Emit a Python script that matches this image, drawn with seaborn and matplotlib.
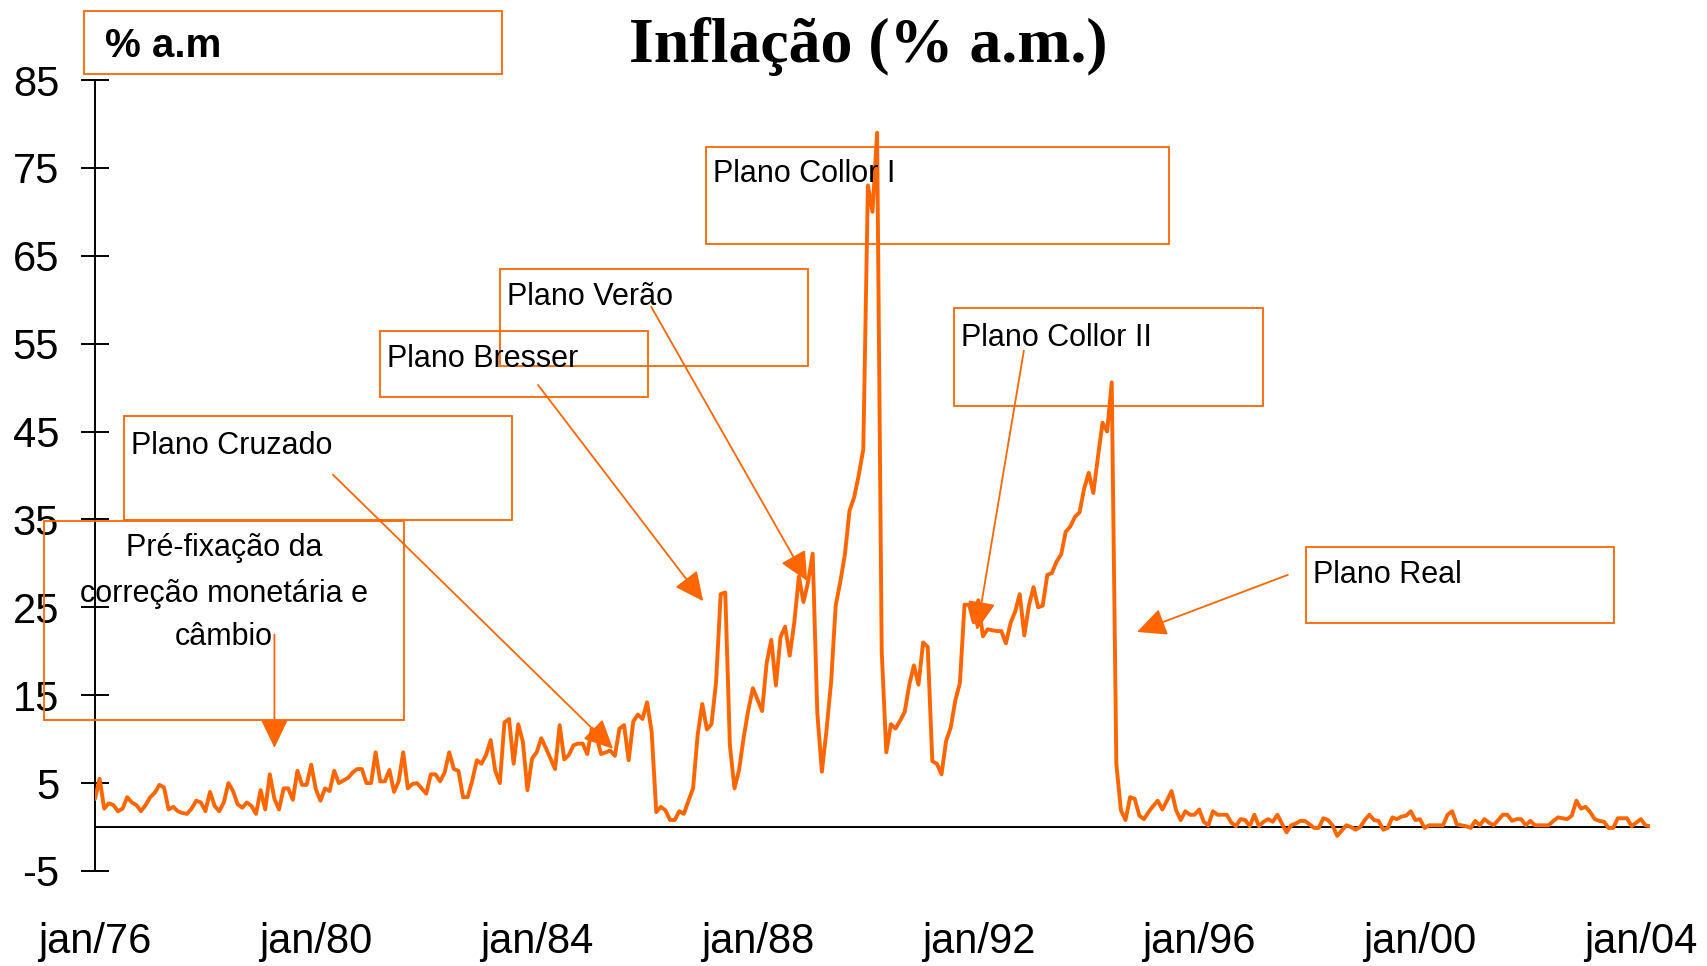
import numpy as np
import pandas as pd
import matplotlib.pyplot as plt
import seaborn as sns
from matplotlib.patches import Rectangle

# Monthly inflation (% a.m.), jan/1976 - mar/2004
infl_1976_1979 = [3.2, 5.5, 2.1, 2.7, 2.5, 1.8, 2.1, 3.4, 2.8, 2.5, 1.8, 2.5,
                  3.4, 3.9, 4.8, 4.5, 2.0, 2.3, 1.8, 1.6, 1.5, 2.1, 3.0, 2.8,
                  1.8, 4.0, 2.4, 1.8, 2.8, 5.0, 4.1, 2.6, 2.2, 2.8, 2.4, 1.5,
                  4.2, 2.0, 6.0, 3.2, 2.0, 4.4, 4.4, 3.1, 6.4, 4.8, 4.8, 7.1]
infl_1980_1983 = [4.3, 3.0, 4.4, 4.1, 6.4, 5.0, 5.3, 5.6, 6.2, 6.6, 6.6, 5.0,
                  5.0, 8.5, 5.2, 5.2, 6.5, 4.0, 5.2, 8.5, 4.4, 4.9, 5.0, 4.4,
                  3.8, 6.0, 6.0, 5.2, 6.2, 8.5, 6.6, 6.4, 3.4, 3.4, 5.3, 7.6,
                  7.2, 8.2, 9.9, 6.4, 5.0, 11.9, 12.3, 7.2, 11.7, 9.7, 4.2, 7.8]
infl_1984_1987 = [8.5, 10.1, 9.0, 7.8, 6.6, 11.6, 7.7, 8.2, 9.3, 9.5, 9.5, 8.3,
                  11.2, 10.3, 8.3, 8.5, 8.7, 8.1, 11.2, 11.6, 7.6, 12.0, 12.8, 12.3,
                  14.2, 10.8, 1.7, 2.3, 1.9, 0.8, 0.8, 1.8, 1.5, 3.0, 4.4, 10.5,
                  14.0, 11.1, 11.7, 16.5, 26.5, 26.7, 9.3, 4.4, 6.5, 10.2, 13.3, 15.8]
infl_1988_1991 = [14.5, 13.2, 18.7, 21.3, 16.1, 21.6, 22.8, 19.5, 23.3, 28.5, 25.6, 27.9,
                  31.1, 13.0, 6.3, 11.0, 16.5, 25.2, 27.9, 31.0, 36.0, 37.5, 40.0, 43.0,
                  73.0, 70.0, 79.0, 20.0, 8.5, 11.7, 11.2, 12.1, 13.1, 16.2, 18.4, 16.2,
                  21.0, 20.5, 7.5, 7.2, 6.0, 9.8, 11.3, 14.4, 16.4, 25.3, 25.3, 23.3]
infl_1992_1995 = [25.8, 21.7, 22.5, 22.4, 22.3, 22.3, 20.9, 23.2, 24.5, 26.5, 21.8, 25.2,
                  27.3, 25.0, 25.2, 28.7, 28.9, 30.2, 31.0, 33.6, 34.2, 35.3, 35.8, 38.5,
                  40.3, 38.0, 42.1, 46.0, 45.0, 50.6, 7.2, 1.9, 0.8, 3.4, 3.2, 1.3,
                  0.9, 1.7, 2.4, 3.0, 2.0, 3.0, 4.1, 1.9, 0.8, 1.8, 1.4, 1.4]
infl_1996_1999 = [2.0, 0.6, 0.2, 1.8, 1.4, 1.4, 1.4, 0.5, 0.1, 0.9, 0.8, 0.1,
                  1.4, 0.1, 0.6, 0.9, 0.6, 1.4, 0.4, -0.6, 0.2, 0.4, 0.7, 0.7,
                  0.3, -0.1, -0.1, 1.0, 0.8, 0.2, -1.0, -0.4, 0.2, 0.0, -0.3, 0.0,
                  0.8, 1.4, 0.8, 0.7, -0.3, -0.1, 1.1, 0.9, 1.2, 1.3, 1.8, 0.8]
infl_2000_2004 = [0.9, -0.1, 0.2, 0.2, 0.2, 0.2, 1.4, 1.8, 0.3, 0.2, 0.1, -0.1,
                  0.7, 0.2, 0.9, 0.5, 0.2, 0.8, 1.4, 1.4, 0.7, 0.9, 0.9, 0.2,
                  0.7, 0.2, 0.2, 0.2, 0.2, 0.7, 1.1, 1.0, 0.9, 1.3, 3.0, 2.1,
                  2.3, 1.7, 0.9, 0.7, 0.6, -0.1, -0.1, 1.0, 1.0, 1.0, 0.1, 0.5,
                  0.9, 0.2, 0.1]

tick_labels = ["jan/76", "jan/80", "jan/84", "jan/88", "jan/92", "jan/96", "jan/00", "jan/04"]
y_ticks = [-5, 5, 15, 25, 35, 45, 55, 65, 75, 85]

values = (infl_1976_1979 + infl_1980_1983 + infl_1984_1987 + infl_1988_1991
          + infl_1992_1995 + infl_1996_1999 + infl_2000_2004)
df = pd.DataFrame({"mes": np.arange(len(values)), "inflacao": values})

sns.set_style("white")
plt.rcParams["font.family"] = ["Liberation Sans", "DejaVu Sans"]
plt.rcParams["axes.unicode_minus"] = False
plt.rcParams["text.color"] = "black"

W, H = 1708, 966
orange = "#FF6600"

fig = plt.figure(figsize=(W / 100, H / 100), dpi=100)
ax = fig.add_axes([95 / W, 1 - 871 / H, (1650 - 95) / W, (871 - 80) / H])
ax.patch.set_alpha(0)

sns.lineplot(data=df, x="mes", y="inflacao", color=orange, lw=2.8, ax=ax, zorder=3)
ax.axhline(0, color="black", lw=1.4, zorder=2)

ax.set_xlim(0, len(values) - 1)
ax.set_ylim(-5, 85)
ax.set_yticks(y_ticks)
ax.set_xticks(np.arange(0, len(values), 48))
ax.set_xticklabels(tick_labels)
ax.set_xlabel("")
ax.set_ylabel("")
for s in ["top", "right", "bottom"]:
    ax.spines[s].set_visible(False)
ax.spines["left"].set_color("black")
ax.spines["left"].set_linewidth(1.4)
ax.tick_params(axis="y", direction="inout", length=19.5, width=1.4, labelsize=30,
               pad=16, colors="black", left=True)
ax.tick_params(axis="x", length=0, labelsize=30, pad=37, colors="black")


def box(x0, y0, x1, y1):
    fig.add_artist(Rectangle((x0 / W, 1 - y1 / H), (x1 - x0) / W, (y1 - y0) / H,
                             transform=fig.transFigure, fill=False, ec=orange, lw=1.3))


def label(x, y, s, size=22, **kw):
    fig.text(x / W, 1 - y / H, s, va="center", fontsize=size, color="black", **kw)


# title and unit box
fig.text(868 / W, 1 - 46 / H, "Inflação (% a.m.)", ha="center", va="center",
         fontsize=46, fontweight="bold", family="Liberation Serif", color="black")
box(84, 11, 502, 74)
label(105, 46, "% a.m", size=29, fontweight="bold")

# annotation boxes
box(706, 147, 1169, 244)
label(713, 174, "Plano Collor I")
box(500, 269, 808, 366)
label(507, 297, "Plano Verão")
box(380, 331, 648, 397)
label(387, 359, "Plano Bresser")
box(954, 308, 1263, 406)
label(961, 338, "Plano Collor II")
box(124, 416, 512, 520)
label(131, 446, "Plano Cruzado")
box(44, 521, 404, 720)
label(224, 548, "Pré-fixação da", ha="center")
label(224, 594, "correção monetária e", ha="center")
label(224, 637, "câmbio", ha="center")
box(1306, 547, 1614, 623)
label(1313, 575, "Plano Real")

# arrows (data coordinates)
arrows = [((39.0, 9.0), (39.0, 21.9)),
          ((112.6, 8.9), (51.7, 40.1)),
          ((132.2, 25.7), (96.3, 50.3)),
          ((154.8, 28.0), (120.9, 59.2)),
          ((191.7, 22.4), (201.9, 54.2)),
          ((226.5, 22.2), (259.3, 28.7))]
for tip, start in arrows:
    ax.annotate("", xy=tip, xytext=start, annotation_clip=False,
                arrowprops=dict(arrowstyle="-|>,head_length=0.9,head_width=0.43",
                                color=orange, lw=1.3, shrinkA=0, shrinkB=0,
                                mutation_scale=20))

fig.savefig("out.png", dpi=100)
